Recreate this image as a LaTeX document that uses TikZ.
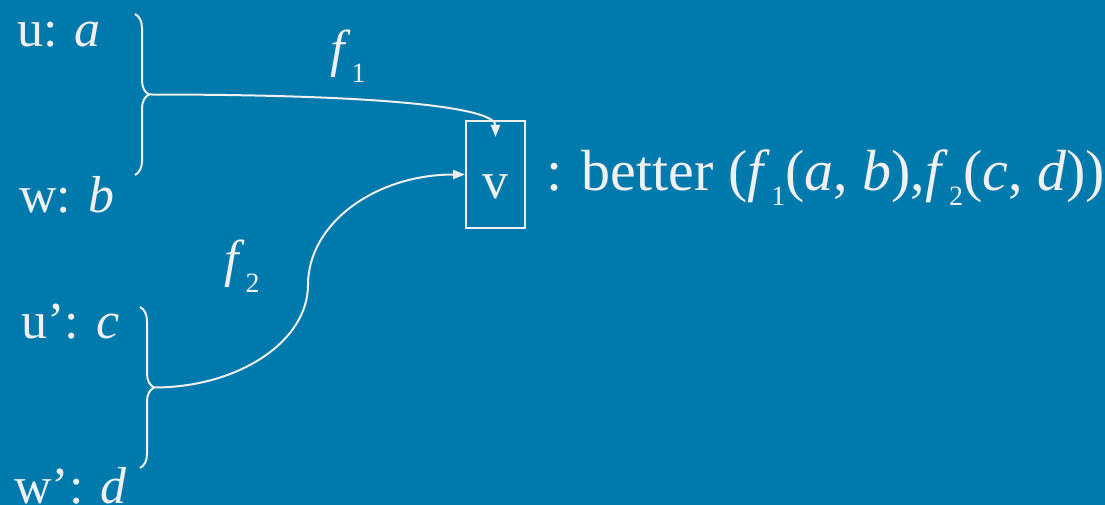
\documentclass[tikz,border=0pt]{standalone}
\usepackage{fontspec}
\setmainfont{Liberation Serif}
\usetikzlibrary{arrows.meta, positioning, decorations.pathreplacing}
\definecolor{slideblue}{RGB}{0,122,172}
\definecolor{chalk}{RGB}{240,240,240}
\newcommand{\lowsub}[1]{\kern1pt\raisebox{-16pt}{\fontsize{28}{28}\selectfont #1}}

\begin{document}
\begin{tikzpicture}[x=1pt, y=-1pt,
  lbl/.style={anchor=base west, inner sep=0pt, text=chalk, font=\fontsize{52}{60}\selectfont},
  curly/.style={draw=chalk, line width=2pt, decorate, decoration={brace, amplitude=14pt}},
  link/.style={draw=chalk, line width=2pt, -{Triangle[length=12pt, width=9pt]}}]
  \fill[slideblue] (0,0) rectangle (1105,505);
  \useasboundingbox (0,0) rectangle (1105,505);
  % variables on the left
  \node (ua) [lbl] at (17,47) {u: \textit{a}};
  \node (wb) [lbl] at (19,212) {w: \textit{b}};
  \node (uc) [lbl] at (21,338) {u’: \textit{c}};
  \node (wd) [lbl] at (14,503) {w’: \textit{d}};
  % function labels
  \node (fa) [lbl] at (330,67) {\textit{f}\lowsub{1}};
  \node (fb) [lbl] at (224,276) {\textit{f}\lowsub{2}};
  % target
  \node (v) [draw=chalk, line width=2pt, text=chalk, font=\fontsize{52}{60}\selectfont,
    minimum width=59pt, minimum height=107pt, inner sep=0pt,
    text height=50pt, text depth=3pt] at (495.5,174.5) {v};
  \node (better) [lbl, font=\fontsize{58}{66}\selectfont] at (546,190)
    {: better (\textit{f}\lowsub{1}(\textit{a}, \textit{b}),\textit{f}\lowsub{2}(\textit{c}, \textit{d}))};
  % braces
  \coordinate (topA) at (135,14);
  \coordinate (botA) at (135,175);
  \coordinate (tipA) at (149,94.5);
  \coordinate (topB) at (140,307);
  \coordinate (botB) at (140,468);
  \coordinate (tipB) at (154,387.5);
  \coordinate (bend) at (308,285);
  \coordinate[below=17pt of v.north] (vin);
  \draw[curly] (topA) -- (botA);
  \draw[curly] (topB) -- (botB);
  % arrows
  \draw[link] (tipA) .. controls +(250,0) and +(0,-28) .. (vin);
  \draw[link] (tipB) .. controls +(85,0) and +(0,56) .. (bend)
    .. controls +(0,-62) and +(-89,0) .. (v.west);
\end{tikzpicture}
\end{document}
